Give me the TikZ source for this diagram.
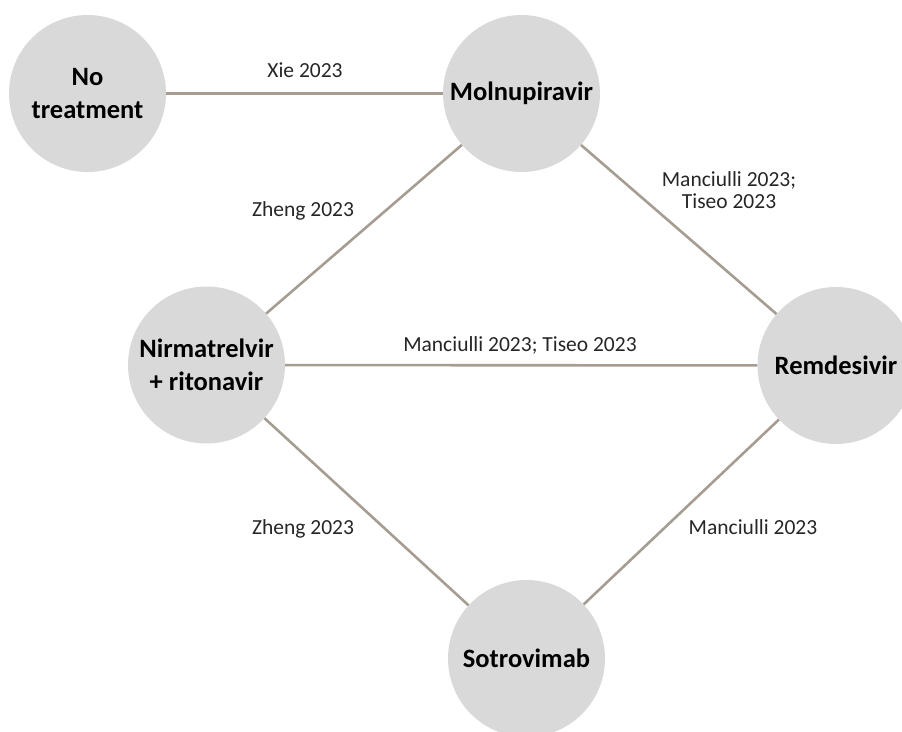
\documentclass[tikz,border=0pt]{standalone}
\usepackage{fontspec}
\setmainfont{Carlito}
\definecolor{edgetaupe}{RGB}{166,157,146}
\definecolor{discgray}{RGB}{217,217,217}
\definecolor{labelink}{RGB}{38,38,38}
\begin{document}
\begin{tikzpicture}[x=1pt,y=-1pt,
  treat/.style={circle,fill=discgray,minimum size=157pt,inner sep=0pt,
    align=center,font=\fontsize{26.5}{33}\selectfont\bfseries,text=black},
  link/.style={draw=edgetaupe,line width=2.6pt},
  study/.style={anchor=base,align=center,text=labelink,
    font=\fontsize{21.5}{22}\selectfont,inner sep=0pt}]
  \useasboundingbox (0,0) rectangle (902,731);

  % treatments
  \node[treat] (none) at (87.5,93.5) {No\\treatment};
  \node[treat] (mol)  at (521.5,93.5) {Molnupiravir};
  \node[treat] (nir)  at (206.5,365) {Nirmatrelvir\\+ ritonavir};
  \node[treat] (rem)  at (836,365.5) {Remdesivir};
  \node[treat] (sot)  at (526.5,658.5) {Sotrovimab};

  % comparisons
  \draw[link] (none) -- (mol);
  \draw[link] (mol) -- (nir);
  \draw[link] (mol) -- (rem);
  \draw[link] (nir) -- (rem);
  \draw[link] (nir) -- (sot);
  \draw[link] (rem) -- (sot);

  % study labels (base = baseline of the last line)
  \node[study] (lxie)  at (305,77)  {Xie 2023};
  \node[study] (lzh1)  at (303,216) {Zheng 2023};
  \node[study] (lmt1)  at (729,208) {Manciulli 2023;\\Tiseo 2023};
  \node[study] (lmt2)  at (520,351) {Manciulli 2023; Tiseo 2023};
  \node[study] (lzh2)  at (303,534) {Zheng 2023};
  \node[study] (lman)  at (753,534) {Manciulli 2023};
\end{tikzpicture}
\end{document}
